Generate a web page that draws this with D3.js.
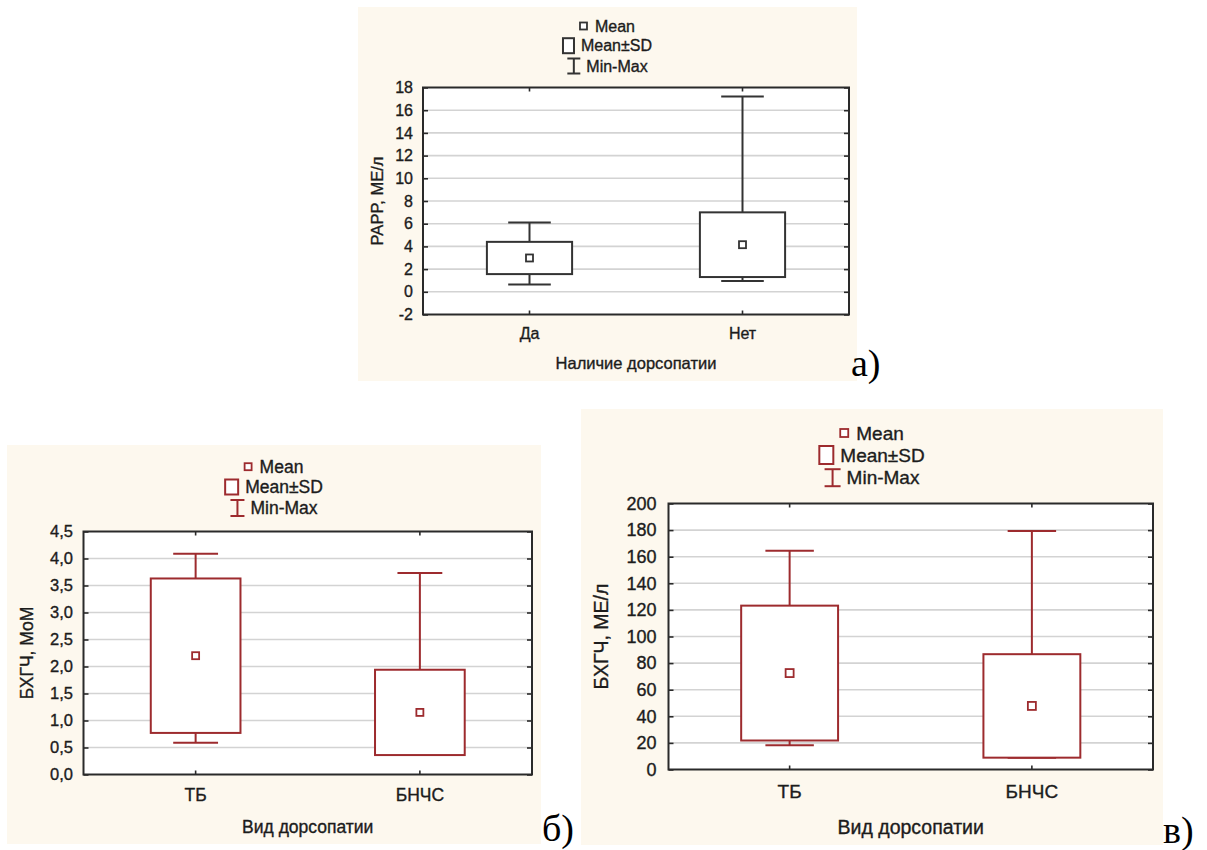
<!DOCTYPE html>
<html>
<head>
<meta charset="utf-8">
<script src="https://cdn.jsdelivr.net/npm/d3@7/dist/d3.min.js"></script>
<style>
  body { margin: 0; background: #ffffff; }
  svg text { font-family: "Liberation Sans", Arial, sans-serif; }
</style>
</head>
<body>
<svg id="chart" width="1207" height="850"></svg>
<script>
// Legend entries shared by all three panels
const legendLabels = ["Mean", "Mean±SD", "Min-Max"];

// а) PAPP, МЕ/л by presence of dorsopathy
const catsA = ["Да", "Нет"];
const meanA = [2.98, 4.15];
const sdA = [1.42, 2.85];
const minA = [0.65, 0.95];
const maxA = [6.1, 17.2];
const ticksA = [-2, 0, 2, 4, 6, 8, 10, 12, 14, 16, 18];

// б) БХГЧ, МоМ by type of dorsopathy
const catsB = ["ТБ", "БНЧС"];
const meanB = [2.2, 1.15];
const sdB = [1.43, 0.79];
const minB = [0.59, 0.36];
const maxB = [4.09, 3.73];
const ticksB = [0, 0.5, 1, 1.5, 2, 2.5, 3, 3.5, 4, 4.5];

// в) БХГЧ, МЕ/л by type of dorsopathy
const catsC = ["ТБ", "БНЧС"];
const meanC = [72.5, 47.8];
const sdC = [50.7, 38.9];
const minC = [18.2, 8.9];
const maxC = [164.5, 179.3];
const ticksC = [0, 20, 40, 60, 80, 100, 120, 140, 160, 180, 200];

const commaLocale = d3.formatLocale({ decimal: ",", thousands: " ", grouping: [3], currency: ["", ""] });

const svg = d3.select("#chart");

const panels = [
  {
    cats: catsA, mean: meanA, sd: sdA, min: minA, max: maxA, ticks: ticksA,
    fmt: d => String(d),
    yTitle: "PAPP, МЕ/л", xTitle: "Наличие дорсопатии", tag: "а)",
    color: "#333333",
    bg: [358, 7, 857, 381],
    plot: [423, 87.5, 849, 314.5],
    fs: { tick: 16, cat: 16, title: 16.5, legend: 16 },
    tickPad: 10, catY: 19, xTitleY: 363, yTitleX: 377,
    legendY: [26, 45.7, 66],
    icon: { mean: 7, sdW: 11, sdH: 15, capW: 13, mmH: 15 },
    marker: 7,
    tagPos: [851, 376]
  },
  {
    cats: catsB, mean: meanB, sd: sdB, min: minB, max: maxB, ticks: ticksB,
    fmt: commaLocale.format(".1f"),
    yTitle: "БХГЧ, МоМ", xTitle: "Вид дорсопатии", tag: "б)",
    color: "#9d2b2e",
    bg: [7, 445, 541, 844],
    plot: [83.5, 531.5, 532, 774.5],
    fs: { tick: 16.5, cat: 17.5, title: 17.5, legend: 17.5 },
    tickPad: 10.5, catY: 20, xTitleY: 827, yTitleX: 27,
    legendY: [466.7, 487, 508],
    icon: { mean: 7, sdW: 13, sdH: 15, capW: 14, mmH: 16 },
    marker: 7,
    tagPos: [542, 841]
  },
  {
    cats: catsC, mean: meanC, sd: sdC, min: minC, max: maxC, ticks: ticksC,
    fmt: d => String(d),
    yTitle: "БХГЧ, МЕ/л", xTitle: "Вид дорсопатии", tag: "в)",
    color: "#9d2b2e",
    bg: [581, 409, 1163, 845],
    plot: [668.5, 503.5, 1153, 769.5],
    fs: { tick: 18, cat: 19, title: 19.5, legend: 19 },
    tickPad: 12, catY: 22, xTitleY: 827, yTitleX: 601,
    legendY: [433, 455, 477.7],
    icon: { mean: 8, sdW: 14, sdH: 18, capW: 16, mmH: 17 },
    marker: 8,
    tagPos: [1163, 843]
  }
];

const frameColor = "#2a2a2a";
const gridColor = "#d3d3d3";
const textColor = "#1c1c1c";
const textHalo = 0.35; // slight stroke to give the labels a fuller weight

panels.forEach(p => {
  const g = svg.append("g");
  const [bx0, by0, bx1, by1] = p.bg;
  const [left, top, right, bottom] = p.plot;

  // panel background
  g.append("rect")
    .attr("x", bx0).attr("y", by0)
    .attr("width", bx1 - bx0).attr("height", by1 - by0)
    .attr("fill", "#fdf8ee");

  // plot area
  g.append("rect")
    .attr("x", left).attr("y", top)
    .attr("width", right - left).attr("height", bottom - top)
    .attr("fill", "#ffffff");

  const x = d3.scaleBand().domain(p.cats).range([left, right]);
  const y = d3.scaleLinear()
    .domain([p.ticks[0], p.ticks[p.ticks.length - 1]])
    .range([bottom, top]);
  const cx = c => x(c) + x.bandwidth() / 2;
  const boxW = x.bandwidth() * 0.4;
  const capW = x.bandwidth() * 0.2;

  // horizontal gridlines
  g.append("g").selectAll("line")
    .data(p.ticks.slice(1, -1))
    .join("line")
    .attr("x1", left).attr("x2", right)
    .attr("y1", d => y(d)).attr("y2", d => y(d))
    .attr("stroke", gridColor).attr("stroke-width", 1.6);

  // axes with inward ticks
  const axL = g.append("g").attr("transform", `translate(${left},0)`)
    .call(d3.axisLeft(y).tickValues(p.ticks).tickSize(-5).tickPadding(p.tickPad).tickFormat(p.fmt));
  const axR = g.append("g").attr("transform", `translate(${right},0)`)
    .call(d3.axisRight(y).tickValues(p.ticks).tickSize(-5).tickFormat(""));
  const axB = g.append("g").attr("transform", `translate(0,${bottom})`)
    .call(d3.axisBottom(x).tickSize(-4).tickPadding(p.catY));
  const axT = g.append("g").attr("transform", `translate(0,${top})`)
    .call(d3.axisTop(x).tickSize(-4).tickFormat(""));

  [axL, axR, axB, axT].forEach(a => {
    a.select(".domain").remove();
    a.selectAll(".tick line").attr("stroke", frameColor).attr("stroke-width", 1.6);
  });
  axL.selectAll(".tick text")
    .attr("fill", textColor).attr("stroke", textColor).attr("stroke-width", textHalo)
    .style("font-size", p.fs.tick + "px")
    .style("font-family", "'Liberation Sans', Arial, sans-serif");
  axB.selectAll(".tick text")
    .attr("dy", null).attr("dominant-baseline", "central")
    .attr("fill", textColor).attr("stroke", textColor).attr("stroke-width", textHalo)
    .style("font-size", p.fs.cat + "px")
    .style("font-family", "'Liberation Sans', Arial, sans-serif");

  // frame
  g.append("rect")
    .attr("x", left).attr("y", top)
    .attr("width", right - left).attr("height", bottom - top)
    .attr("fill", "none").attr("stroke", frameColor).attr("stroke-width", 2);

  // whiskers, boxes and mean markers
  const rows = p.cats.map((c, i) => ({
    c, mean: p.mean[i], sd: p.sd[i], min: p.min[i], max: p.max[i]
  }));
  const marks = g.append("g")
    .attr("stroke", p.color).attr("stroke-width", 2).attr("fill", "none");

  rows.forEach(r => {
    const xc = cx(r.c);
    const hi = r.mean + r.sd, lo = r.mean - r.sd;
    marks.append("line").attr("x1", xc).attr("x2", xc).attr("y1", y(r.max)).attr("y2", y(hi));
    marks.append("line").attr("x1", xc).attr("x2", xc).attr("y1", y(lo)).attr("y2", y(r.min));
    marks.append("line").attr("x1", xc - capW / 2).attr("x2", xc + capW / 2).attr("y1", y(r.max)).attr("y2", y(r.max));
    marks.append("line").attr("x1", xc - capW / 2).attr("x2", xc + capW / 2).attr("y1", y(r.min)).attr("y2", y(r.min));
    marks.append("rect")
      .attr("x", xc - boxW / 2).attr("y", y(hi))
      .attr("width", boxW).attr("height", y(lo) - y(hi))
      .attr("fill", "#ffffff");
    marks.append("rect")
      .attr("x", xc - p.marker / 2).attr("y", y(r.mean) - p.marker / 2)
      .attr("width", p.marker).attr("height", p.marker)
      .attr("fill", "#ffffff").attr("stroke-width", 1.8);
  });

  // axis titles
  g.append("text")
    .attr("x", (left + right) / 2).attr("y", p.xTitleY)
    .attr("text-anchor", "middle").attr("dominant-baseline", "central")
    .attr("fill", textColor).attr("stroke", textColor).attr("stroke-width", textHalo)
    .style("font-size", p.fs.title + "px")
    .text(p.xTitle);
  g.append("text")
    .attr("transform", `translate(${p.yTitleX},${(top + bottom) / 2}) rotate(-90)`)
    .attr("text-anchor", "middle").attr("dominant-baseline", "central")
    .attr("fill", textColor).attr("stroke", textColor).attr("stroke-width", textHalo)
    .style("font-size", p.fs.title + "px")
    .text(p.yTitle);

  // legend: one centred row per entry
  const midX = (bx0 + bx1) / 2;
  legendLabels.forEach((label, k) => {
    const row = g.append("g");
    const ic = row.append("g").attr("stroke", p.color).attr("fill", "#ffffff");
    let iw, gap;
    if (k === 0) {
      const s = p.icon.mean;
      ic.append("rect").attr("x", 0).attr("y", -s / 2).attr("width", s).attr("height", s).attr("stroke-width", 1.8);
      iw = s; gap = 8;
    } else if (k === 1) {
      ic.append("rect").attr("x", 0).attr("y", -p.icon.sdH / 2)
        .attr("width", p.icon.sdW).attr("height", p.icon.sdH).attr("stroke-width", 2);
      iw = p.icon.sdW; gap = 7;
    } else {
      const w = p.icon.capW, h = p.icon.mmH;
      ic.append("line").attr("x1", w / 2).attr("x2", w / 2).attr("y1", -h / 2).attr("y2", h / 2).attr("stroke-width", 2);
      ic.append("line").attr("x1", 0).attr("x2", w).attr("y1", -h / 2).attr("y2", -h / 2).attr("stroke-width", 2);
      ic.append("line").attr("x1", 0).attr("x2", w).attr("y1", h / 2).attr("y2", h / 2).attr("stroke-width", 2);
      iw = w; gap = 6;
    }
    const t = row.append("text")
      .attr("x", iw + gap).attr("y", 0)
      .attr("dominant-baseline", "central")
      .attr("fill", textColor).attr("stroke", textColor).attr("stroke-width", textHalo)
      .style("font-size", p.fs.legend + "px")
      .text(label);
    const total = iw + gap + t.node().getComputedTextLength();
    row.attr("transform", `translate(${midX - total / 2},${p.legendY[k]})`);
  });

  // panel letter
  svg.append("text")
    .attr("x", p.tagPos[0]).attr("y", p.tagPos[1])
    .attr("fill", "#000000")
    .style("font-family", "'Liberation Serif', 'Times New Roman', serif")
    .style("font-size", "38px")
    .text(p.tag);
});
</script>
</body>
</html>
